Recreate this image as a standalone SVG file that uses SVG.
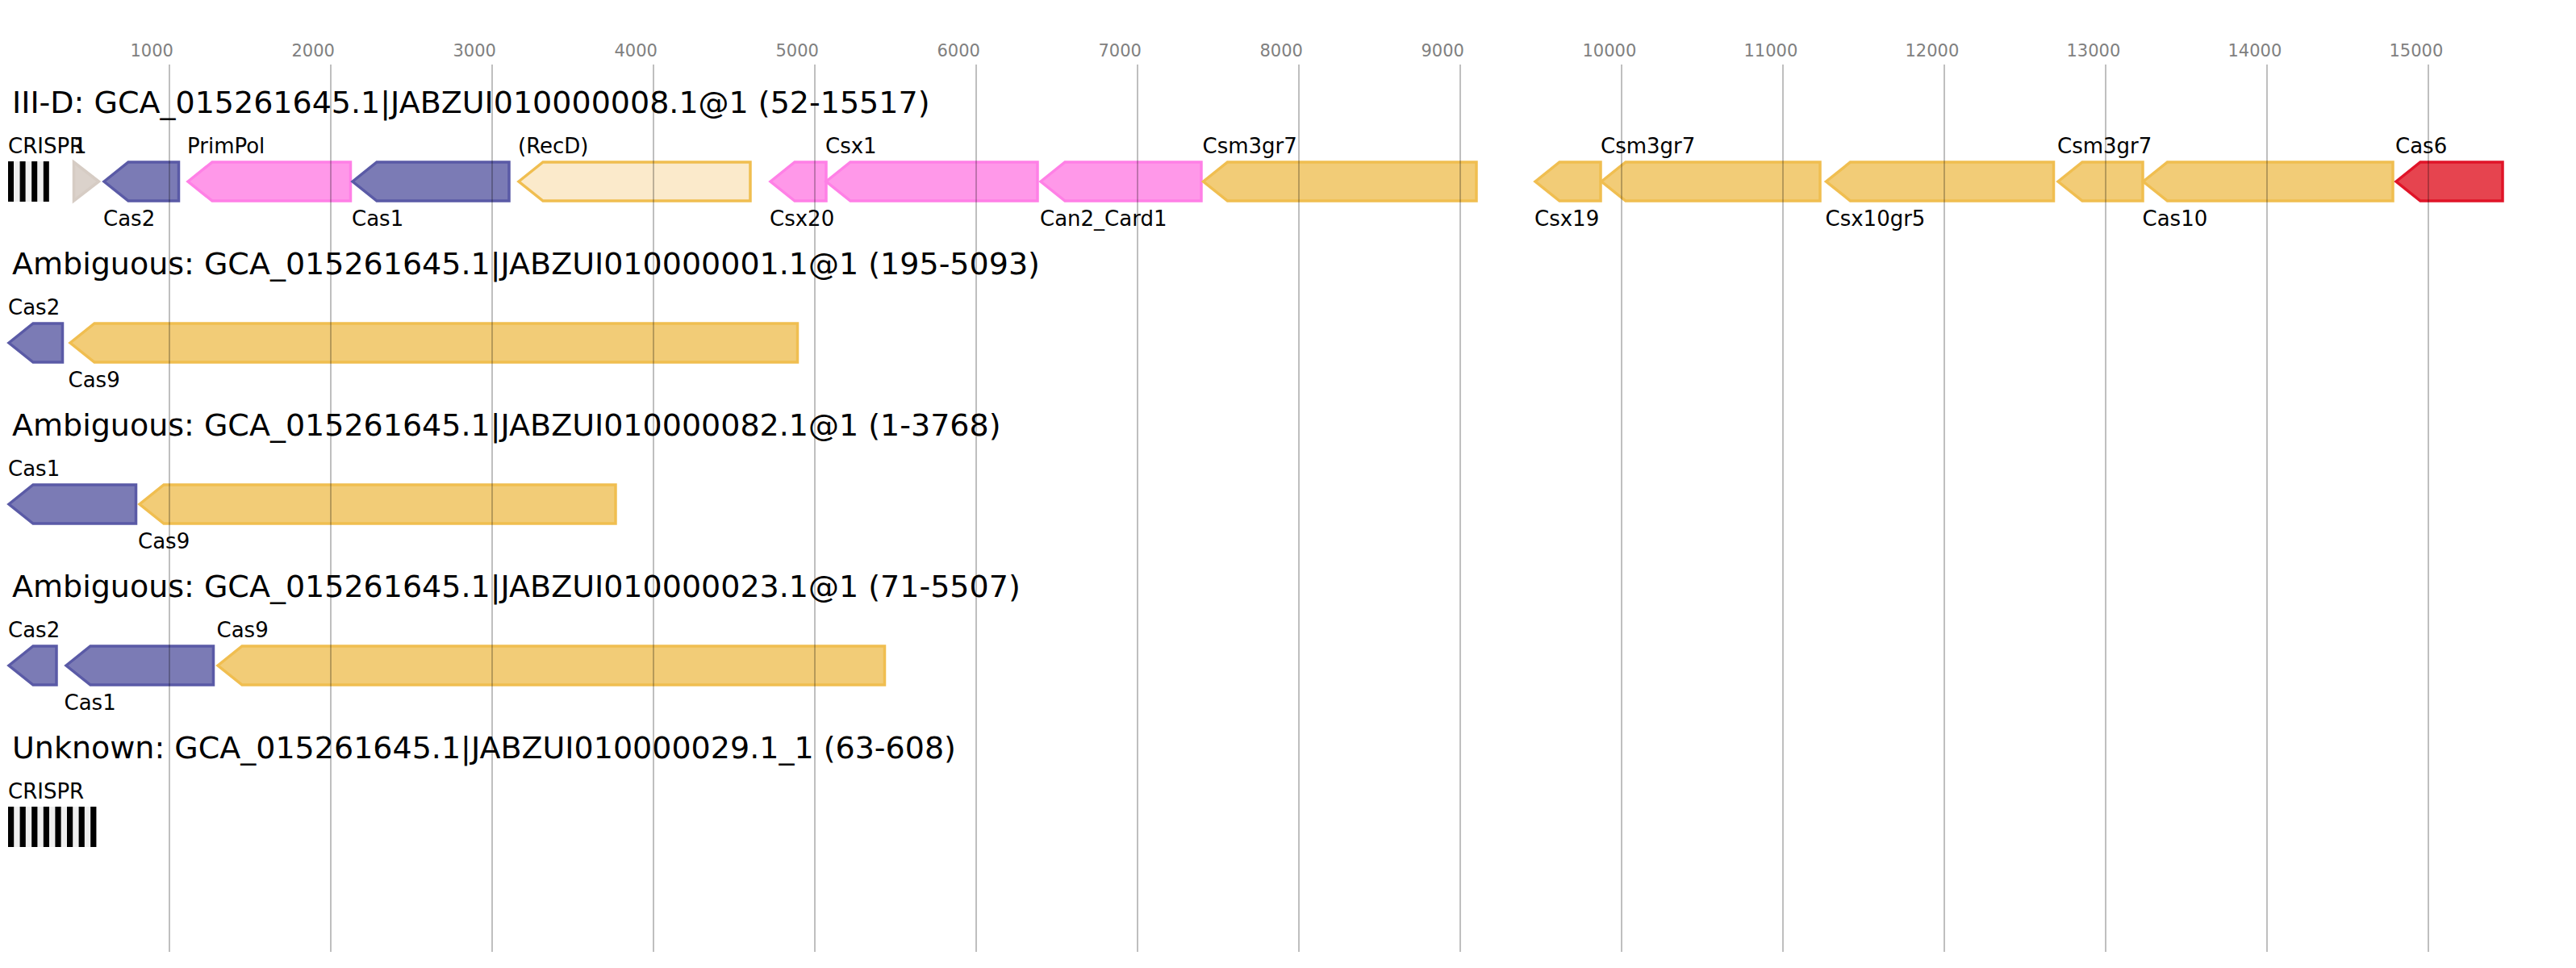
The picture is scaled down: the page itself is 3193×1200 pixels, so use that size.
<svg xmlns="http://www.w3.org/2000/svg" width="3193" height="1200" viewBox="0 0 3193 1200">
<style>
text{font-family:"DejaVu Sans","Liberation Sans",sans-serif;fill:#000}
.tick{font-size:21px;fill:#808080}
.title{font-size:38px}
.lab{font-size:26px}
.grid line{stroke:#000;stroke-opacity:0.25;stroke-width:2}
.g{stroke-width:3.5;stroke-linejoin:miter}
.blue{fill:#7b7bb5;stroke:#5a5aa6}
.pink{fill:#ff98e9;stroke:#ff80e6}
.yel{fill:#f2cc77;stroke:#f0be50}
.light{fill:#fbeacb;stroke:#f0be50}
.red{fill:#e6444f;stroke:#e01428}
.gray{fill:#dbd2cb;stroke:#d6ccc4}
.crbg{fill:#efefef}
.bar{fill:#000}
</style>
<rect width="3193" height="1200" fill="#fff"/>
<g id="axis-labels">
<text class="tick" x="161.5" y="70">1000</text>
<text class="tick" x="361.5" y="70">2000</text>
<text class="tick" x="561.5" y="70">3000</text>
<text class="tick" x="761.5" y="70">4000</text>
<text class="tick" x="961.5" y="70">5000</text>
<text class="tick" x="1161.5" y="70">6000</text>
<text class="tick" x="1361.5" y="70">7000</text>
<text class="tick" x="1561.5" y="70">8000</text>
<text class="tick" x="1761.5" y="70">9000</text>
<text class="tick" x="1961.5" y="70">10000</text>
<text class="tick" x="2161.5" y="70">11000</text>
<text class="tick" x="2361.5" y="70">12000</text>
<text class="tick" x="2561.5" y="70">13000</text>
<text class="tick" x="2761.5" y="70">14000</text>
<text class="tick" x="2961.5" y="70">15000</text>
</g>
<g id="titles">
<text class="title" x="15" y="140">III-D: GCA_015261645.1|JABZUI010000008.1@1 (52-15517)</text>
<text class="title" x="15" y="340">Ambiguous: GCA_015261645.1|JABZUI010000001.1@1 (195-5093)</text>
<text class="title" x="15" y="540">Ambiguous: GCA_015261645.1|JABZUI010000082.1@1 (1-3768)</text>
<text class="title" x="15" y="740">Ambiguous: GCA_015261645.1|JABZUI010000023.1@1 (71-5507)</text>
<text class="title" x="15" y="940">Unknown: GCA_015261645.1|JABZUI010000029.1_1 (63-608)</text>
</g>
<!-- Row 1 -->
<g id="r1-crispr">
<rect class="crbg" x="10" y="200" width="50.8" height="50"/>
<rect class="bar" x="10" y="200" width="7" height="50"/>
<rect class="bar" x="24.6" y="200" width="7" height="50"/>
<rect class="bar" x="39.2" y="200" width="7" height="50"/>
<rect class="bar" x="53.8" y="200" width="7" height="50"/>
<text class="lab" x="10" y="190">CRISPR</text>
</g>
<g id="r1-unk"><path class="g gray" d="M91.5,201 L122.5,225 L91.5,249 Z"/><text class="lab" x="91" y="190">1</text></g>
<g id="r1-cas2"><path class="g blue" d="M129,225 L159,201 L221.5,201 L221.5,249 L159,249 Z"/><text class="lab" x="128" y="280">Cas2</text></g>
<g id="r1-primpol"><path class="g pink" d="M233,225 L263,201 L434.5,201 L434.5,249 L263,249 Z"/><text class="lab" x="232" y="190">PrimPol</text></g>
<g id="r1-cas1"><path class="g blue" d="M437,225 L467,201 L631,201 L631,249 L467,249 Z"/><text class="lab" x="436" y="280">Cas1</text></g>
<g id="r1-recd"><path class="g light" d="M643,225 L673,201 L930,201 L930,249 L673,249 Z"/><text class="lab" x="642" y="190">(RecD)</text></g>
<g id="r1-csx20"><path class="g pink" d="M955,225 L985,201 L1024,201 L1024,249 L985,249 Z"/><text class="lab" x="954" y="280">Csx20</text></g>
<g id="r1-csx1"><path class="g pink" d="M1024,225 L1054,201 L1286,201 L1286,249 L1054,249 Z"/><text class="lab" x="1023" y="190">Csx1</text></g>
<g id="r1-can2"><path class="g pink" d="M1290,225 L1320,201 L1489,201 L1489,249 L1320,249 Z"/><text class="lab" x="1289" y="280">Can2_Card1</text></g>
<g id="r1-csm3a"><path class="g yel" d="M1491.5,225 L1521.5,201 L1830,201 L1830,249 L1521.5,249 Z"/><text class="lab" x="1490.5" y="190">Csm3gr7</text></g>
<g id="r1-csx19"><path class="g yel" d="M1903,225 L1933,201 L1984,201 L1984,249 L1933,249 Z"/><text class="lab" x="1902" y="280">Csx19</text></g>
<g id="r1-csm3b"><path class="g yel" d="M1985,225 L2015,201 L2256,201 L2256,249 L2015,249 Z"/><text class="lab" x="1984" y="190">Csm3gr7</text></g>
<g id="r1-csx10"><path class="g yel" d="M2263.5,225 L2293.5,201 L2545.5,201 L2545.5,249 L2293.5,249 Z"/><text class="lab" x="2262.5" y="280">Csx10gr5</text></g>
<g id="r1-csm3c"><path class="g yel" d="M2551,225 L2581,201 L2656,201 L2656,249 L2581,249 Z"/><text class="lab" x="2550" y="190">Csm3gr7</text></g>
<g id="r1-cas10"><path class="g yel" d="M2656.5,225 L2686.5,201 L2966,201 L2966,249 L2686.5,249 Z"/><text class="lab" x="2655.5" y="280">Cas10</text></g>
<g id="r1-cas6"><path class="g red" d="M2970,225 L3000,201 L3102,201 L3102,249 L3000,249 Z"/><text class="lab" x="2969" y="190">Cas6</text></g>
<!-- Row 2 -->
<g id="r2-cas2"><path class="g blue" d="M11,425 L41,401 L77.5,401 L77.5,449 L41,449 Z"/><text class="lab" x="10" y="390">Cas2</text></g>
<g id="r2-cas9"><path class="g yel" d="M87,425 L117,401 L988.5,401 L988.5,449 L117,449 Z"/><text class="lab" x="84.5" y="480">Cas9</text></g>
<!-- Row 3 -->
<g id="r3-cas1"><path class="g blue" d="M11,625 L41,601 L168.5,601 L168.5,649 L41,649 Z"/><text class="lab" x="10" y="590">Cas1</text></g>
<g id="r3-cas9"><path class="g yel" d="M173,625 L203,601 L763,601 L763,649 L203,649 Z"/><text class="lab" x="171" y="680">Cas9</text></g>
<!-- Row 4 -->
<g id="r4-cas2"><path class="g blue" d="M11,825 L41,801 L70,801 L70,849 L41,849 Z"/><text class="lab" x="10" y="790">Cas2</text></g>
<g id="r4-cas1"><path class="g blue" d="M82,825 L112,801 L264.5,801 L264.5,849 L112,849 Z"/><text class="lab" x="79.5" y="880">Cas1</text></g>
<g id="r4-cas9"><path class="g yel" d="M270,825 L300,801 L1096.5,801 L1096.5,849 L300,849 Z"/><text class="lab" x="268.5" y="790">Cas9</text></g>
<!-- Row 5 -->
<g id="r5-crispr">
<rect class="crbg" x="10" y="1000" width="109.4" height="50"/>
<rect class="bar" x="10" y="1000" width="7.2" height="50"/>
<rect class="bar" x="24.6" y="1000" width="7.2" height="50"/>
<rect class="bar" x="39.2" y="1000" width="7.2" height="50"/>
<rect class="bar" x="53.8" y="1000" width="7.2" height="50"/>
<rect class="bar" x="68.4" y="1000" width="7.2" height="50"/>
<rect class="bar" x="83" y="1000" width="7.2" height="50"/>
<rect class="bar" x="97.6" y="1000" width="7.2" height="50"/>
<rect class="bar" x="112.2" y="1000" width="7.2" height="50"/>
<text class="lab" x="10" y="990">CRISPR</text>
</g>
<g id="connectors" class="grid">
<line x1="210" y1="80" x2="210" y2="1180"/>
<line x1="410" y1="80" x2="410" y2="1180"/>
<line x1="610" y1="80" x2="610" y2="1180"/>
<line x1="810" y1="80" x2="810" y2="1180"/>
<line x1="1010" y1="80" x2="1010" y2="1180"/>
<line x1="1210" y1="80" x2="1210" y2="1180"/>
<line x1="1410" y1="80" x2="1410" y2="1180"/>
<line x1="1610" y1="80" x2="1610" y2="1180"/>
<line x1="1810" y1="80" x2="1810" y2="1180"/>
<line x1="2010" y1="80" x2="2010" y2="1180"/>
<line x1="2210" y1="80" x2="2210" y2="1180"/>
<line x1="2410" y1="80" x2="2410" y2="1180"/>
<line x1="2610" y1="80" x2="2610" y2="1180"/>
<line x1="2810" y1="80" x2="2810" y2="1180"/>
<line x1="3010" y1="80" x2="3010" y2="1180"/>
</g>
</svg>
